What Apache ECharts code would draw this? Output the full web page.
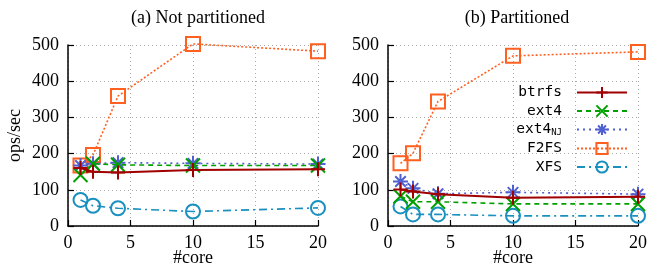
<!DOCTYPE html>
<html>
<head>
<meta charset="utf-8">
<script src="https://cdn.jsdelivr.net/npm/echarts@6/dist/echarts.min.js"></script>
<style>
html,body{margin:0;padding:0;background:#fff;}
#chart{width:647px;height:266px;}
</style>
</head>
<body>
<div id="chart"></div>
<script>
// x values (#core)
var cores=[1,2,4,10,20];
// (a) not partitioned
var aBtrfs=[160,150,148,155,157];
var aExt4=[141,172,169,167,167];
var aExt4nj=[167,172,175,173,171];
var aF2fs=[167,196,359,503,483];
var aXfs=[72,56,49,40,50];
// (b) partitioned
var bBtrfs=[101,95,88,78,81];
var bExt4=[82,67,67,61,61];
var bExt4nj=[123,104,89,93,88];
var bF2fs=[173,201,344,470,481];
var bXfs=[54,32,32,28,28];

var names=['btrfs','ext4','ext4NJ','F2FS','XFS'];
var colors=['#a00000','#00a000','#5060d0','#ff6020','#1890c0'];
var dashes=['solid',[5,4],[2,4],[2,2],[8,4,2,4]];
var symbols=[
    'path://M0,-1L0,1M-1,0L1,0',
    'path://M-1,-1L1,1M-1,1L1,-1',
    'path://M0,-1L0,1M-1,0L1,0M-0.7,-0.7L0.7,0.7M-0.7,0.7L0.7,-0.7',
    'rect',
    'circle'
];
var sizes=[14,14,15,14,14];
var serif='"Liberation Serif","Times New Roman",serif';
var mono='"DejaVu Sans Mono",monospace';

function pairs(ys){
    let out=[];
    for(let i=0;i<cores.length;i++){
        out.push([cores[i],ys[i]]);
    }
    return out;
}

function mkSeries(data,idx){
    let s=[];
    for(let i=0;i<5;i++){
        s.push({
            name:names[i],
            type:'line',
            xAxisIndex:idx,
            yAxisIndex:idx,
            data:pairs(data[i]),
            color:colors[i],
            symbol:symbols[i],
            symbolSize:sizes[i],
            clip:false,
            lineStyle:{color:colors[i],width:i==0?2:1.6,type:dashes[i]},
            itemStyle:{color:'rgba(0,0,0,0)',borderColor:colors[i],borderWidth:2},
            emphasis:{disabled:true},
            animation:false,
            z:10-i
        });
    }
    return s;
}

function xAx(idx){
    return {
        type:'value',gridIndex:idx,min:0,max:20,interval:5,
        name:'#core',nameLocation:'middle',nameGap:23,nameMoveOverlap:false,
        nameTextStyle:{fontFamily:serif,fontSize:18,color:'#000',verticalAlign:'top',lineHeight:18},
        axisLine:{lineStyle:{color:'#000',width:1.5}},
        axisTick:{inside:true,length:6,lineStyle:{color:'#000',width:1.2}},
        axisLabel:{fontFamily:serif,fontSize:18,color:'#000',margin:8},
        splitLine:{show:true,lineStyle:{color:'#aaa',type:[1,3],width:1}}
    };
}
function yAx(idx){
    return {
        type:'value',gridIndex:idx,min:0,max:500,interval:100,
        name:idx==0?'ops/sec':'',nameLocation:'middle',nameGap:44,nameMoveOverlap:false,
        nameTextStyle:{fontFamily:serif,fontSize:18,color:'#000'},
        axisLine:{show:true,lineStyle:{color:'#000',width:1.5}},
        axisTick:{show:true,inside:true,length:6,lineStyle:{color:'#000',width:1.2}},
        axisLabel:{fontFamily:serif,fontSize:18,color:'#000',margin:9},
        splitLine:{show:true,lineStyle:{color:'#aaa',type:[1,3],width:1}}
    };
}

var chart=echarts.init(document.getElementById('chart'));
var option={
    backgroundColor:'#fff',
    animation:false,
    title:[
        {text:'(a) Not partitioned',left:193,top:4,textAlign:'center',
         textStyle:{fontFamily:serif,fontSize:18,fontWeight:'normal',color:'#000'}},
        {text:'(b) Partitioned',left:512,top:4,textAlign:'center',
         textStyle:{fontFamily:serif,fontSize:18,fontWeight:'normal',color:'#000'}}
    ],
    grid:[
        {left:68,right:329,top:45,bottom:40,outerBoundsMode:'none',containLabel:false},
        {left:388,right:9,top:45,bottom:40,outerBoundsMode:'none',containLabel:false}
    ],
    xAxis:[xAx(0),xAx(1)],
    yAxis:[yAx(0),yAx(1)],
    legend:{
        data:names,
        orient:'vertical',
        right:14,
        top:80,
        align:'right',
        itemWidth:50,
        itemHeight:14,
        itemGap:3.5,
        selectedMode:false,
        textStyle:{
            fontFamily:mono,fontSize:14.5,color:'#000',padding:[0,10,0,0],
            rich:{
                m:{fontFamily:mono,fontSize:14.5,color:'#000'},
                s:{fontFamily:mono,fontSize:9,color:'#000',padding:[7,0,0,0]}
            }
        },
        formatter:function(n){
            if(n=='ext4NJ'){
                return '{m|ext4}{s|NJ}';
            }
            return n;
        }
    },
    series:mkSeries([aBtrfs,aExt4,aExt4nj,aF2fs,aXfs],0).concat(mkSeries([bBtrfs,bExt4,bExt4nj,bF2fs,bXfs],1))
};
chart.setOption(option);
</script>
</body>
</html>
